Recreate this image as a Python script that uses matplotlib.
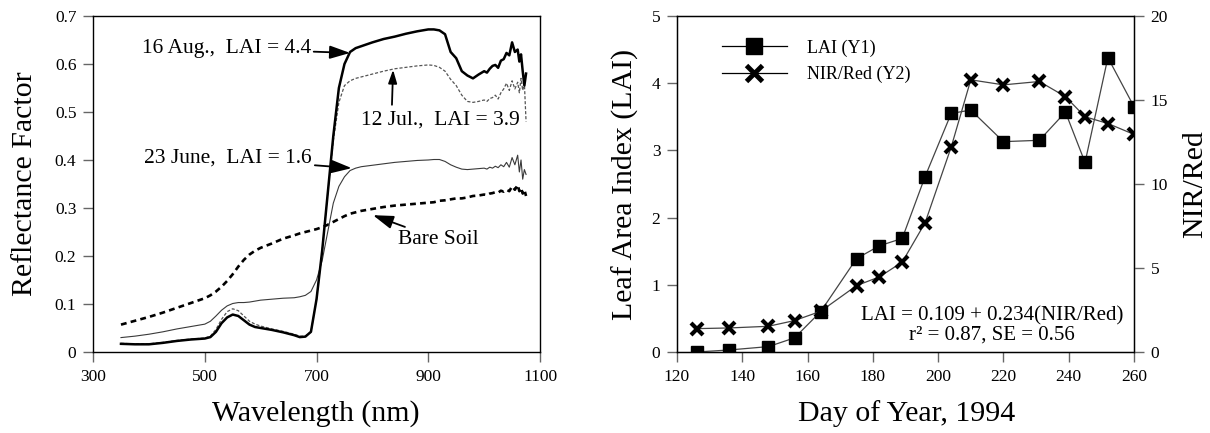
import numpy as np
import matplotlib
matplotlib.use("Agg")
import matplotlib.pyplot as plt
from matplotlib.lines import Line2D

plt.rcParams['font.family'] = ['Liberation Serif', 'DejaVu Serif']

# ---- left panel: reflectance spectra ----
wavelength = [350, 375, 400, 425, 450, 475, 500,
              510, 520, 530, 540, 550, 560, 570, 580, 590, 600,
              620, 640, 660, 670, 680, 690, 700,
              710, 720, 730, 740, 750, 760, 770, 780,
              800, 820, 840, 860, 880, 900,
              910, 920, 930, 940, 950, 960, 970, 980, 990, 1000,
              1005, 1010, 1015, 1020, 1025, 1030, 1035, 1040, 1045, 1050, 1055, 1060,
              1063, 1066, 1069, 1072, 1075]

refl_aug = [.017, .016, .016, .019, .023, .026, .028,
            .031, .042, .060, .072, .078, .075, .066, .057, .052, .050,
            .046, .041, .035, .031, .032, .042, .11,
            .21, .33, .45, .55, .60, .625, .633, .637,
            .645, .652, .657, .663, .668, .672,
            .672, .670, .662, .625, .612, .585, .576, .570, .578, .585,
            .582, .590, .596, .598, .592, .607, .610, .623, .618, .645, .625, .630,
            .605, .620, .585, .555, .580]

refl_jul = [.018, .017, .017, .020, .024, .027, .029,
            .033, .047, .068, .084, .090, .086, .075, .064, .058, .054,
            .048, .043, .037, .033, .033, .042, .11,
            .21, .33, .44, .52, .555, .565, .570, .573,
            .579, .585, .590, .593, .596, .598,
            .597, .593, .585, .568, .555, .535, .522, .520, .522, .525,
            .522, .528, .530, .535, .527, .540, .548, .560, .545, .565, .548, .562,
            .540, .570, .545, .560, .480]

refl_jun = [.030, .033, .037, .042, .048, .053, .058,
            .064, .075, .087, .096, .101, .103, .103, .104, .106, .108,
            .110, .112, .113, .115, .118, .126, .15,
            .19, .25, .31, .345, .365, .378, .383, .386,
            .389, .392, .395, .397, .399, .400,
            .401, .401, .397, .390, .385, .381, .380, .381, .382, .383,
            .381, .385, .383, .387, .384, .390, .386, .395, .385, .405, .390, .410,
            .375, .400, .360, .380, .370]

refl_soil = [.057, .065, .073, .082, .092, .102, .112,
             .118, .126, .136, .148, .162, .178, .192, .203, .211, .217,
             .226, .236, .243, .247, .250, .253, .256,
             .260, .265, .271, .277, .283, .288, .291, .294,
             .298, .302, .305, .307, .309, .311,
             .312, .315, .316, .318, .320, .320, .322, .325, .326, .328,
             .327, .330, .331, .333, .332, .336, .334, .338, .335, .345, .338, .348,
             .335, .342, .330, .338, .325]

# ---- right panel: LAI and NIR/Red over the season ----
day = [126, 136, 148, 156, 164, 175, 182, 189, 196, 204, 210, 220, 231, 239, 245, 252, 260]
lai = [0.0, 0.03, 0.08, 0.21, 0.60, 1.39, 1.58, 1.69, 2.61, 3.55, 3.60, 3.13, 3.15, 3.57, 2.82, 4.38, 3.65]
nir_red = [1.39, 1.43, 1.53, 1.87, 2.42, 3.95, 4.47, 5.35, 7.69, 12.2, 16.2, 15.9, 16.1, 15.2, 14.0, 13.6, 12.95]

fig = plt.figure(figsize=(12.1, 4.33), dpi=100)

tick_kw = dict(direction='out', length=7, width=1.0, color='#666666',
               labelcolor='black', labelsize=12.5, pad=5)

# left panel
ax1 = fig.add_axes([0.0769, 0.1871, 0.3694, 0.776])
ax1.plot(wavelength, refl_soil, color='black', lw=1.9, dashes=(2.2, 1.6))
ax1.plot(wavelength, refl_jun, color='#3a3a3a', lw=0.8)
ax1.plot(wavelength, refl_jul, color='#555555', lw=0.9, dashes=(2.5, 1.5))
ax1.plot(wavelength, refl_aug, color='black', lw=1.8)
ax1.set_xlim(300, 1100)
ax1.set_ylim(0, 0.7)
ax1.set_xticks([300, 500, 700, 900, 1100])
ax1.set_yticks([0, 0.1, 0.2, 0.3, 0.4, 0.5, 0.6, 0.7])
ax1.set_yticklabels(['0', '0.1', '0.2', '0.3', '0.4', '0.5', '0.6', '0.7'])
ax1.tick_params(**tick_kw)
for s in ax1.spines.values():
    s.set_linewidth(1.0)

arrow = dict(arrowstyle='-|>,head_length=0.8,head_width=0.26', color='black', lw=1.3,
             shrinkA=0, shrinkB=0)
ax1.annotate('16 Aug.,  LAI = 4.4', xy=(760, 0.623), xytext=(690, 0.632),
             ha='right', va='center', fontsize=15.5, arrowprops=arrow)
ax1.annotate('', xy=(837, 0.588), xytext=(835, 0.515), arrowprops=arrow)
ax1.text(1064, 0.483, '12 Jul.,  LAI = 3.9', ha='right', va='center', fontsize=15.5)
ax1.annotate('23 June,  LAI = 1.6', xy=(763, 0.383), xytext=(692, 0.403),
             ha='right', va='center', fontsize=15.5, arrowprops=arrow)
ax1.annotate('Bare Soil', xy=(801, 0.285), xytext=(846, 0.235),
             ha='left', va='center', fontsize=15.5, arrowprops=arrow)

fig.text(0.021, 0.575, 'Reflectance Factor', rotation=90, ha='center', va='center', fontsize=21.5)
fig.text(0.261, 0.046, 'Wavelength (nm)', ha='center', va='center', fontsize=21.5)

# right panel
ax2 = fig.add_axes([0.5595, 0.1871, 0.3777, 0.776])
ax3 = ax2.twinx()
ax2.plot(day, lai, color='#444444', lw=0.9, marker='s', ms=8, mfc='black', mec='black')
ax3.plot(day, nir_red, color='#444444', lw=0.9, marker='x', ms=9, mec='black', mew=3)
ax2.set_xlim(120, 260)
ax2.set_ylim(0, 5)
ax3.set_ylim(0, 20)
ax2.set_xticks(range(120, 261, 20))
ax2.set_yticks(range(0, 6))
ax3.set_yticks(range(0, 21, 5))
ax2.tick_params(**tick_kw)
ax3.tick_params(**tick_kw)
for s in ax2.spines.values():
    s.set_linewidth(1.0)

handles = [Line2D([], [], color='black', lw=0.9, marker='s', ms=11, mfc='black', mec='black'),
           Line2D([], [], color='black', lw=0.9, marker='x', ms=12, mec='black', mew=3.5)]
ax2.legend(handles, ['LAI (Y1)', 'NIR/Red (Y2)'], loc='upper left',
           bbox_to_anchor=(0.098, 0.93), frameon=False, fontsize=13,
           handlelength=3.6, handletextpad=1.1, labelspacing=0.5,
           borderpad=0, borderaxespad=0)

ax2.text(0.689, 0.079, 'LAI = 0.109 + 0.234(NIR/Red)\nr² = 0.87, SE = 0.56',
         transform=ax2.transAxes, ha='center', va='center', fontsize=15, linespacing=1.05)

fig.text(0.5165, 0.575, 'Leaf Area Index (LAI)', rotation=90, ha='center', va='center', fontsize=21.5)
fig.text(0.9876, 0.575, 'NIR/Red', rotation=90, ha='center', va='center', fontsize=21.5)
fig.text(0.749, 0.046, 'Day of Year, 1994', ha='center', va='center', fontsize=21.5)

fig.savefig('out.png', dpi=100)
